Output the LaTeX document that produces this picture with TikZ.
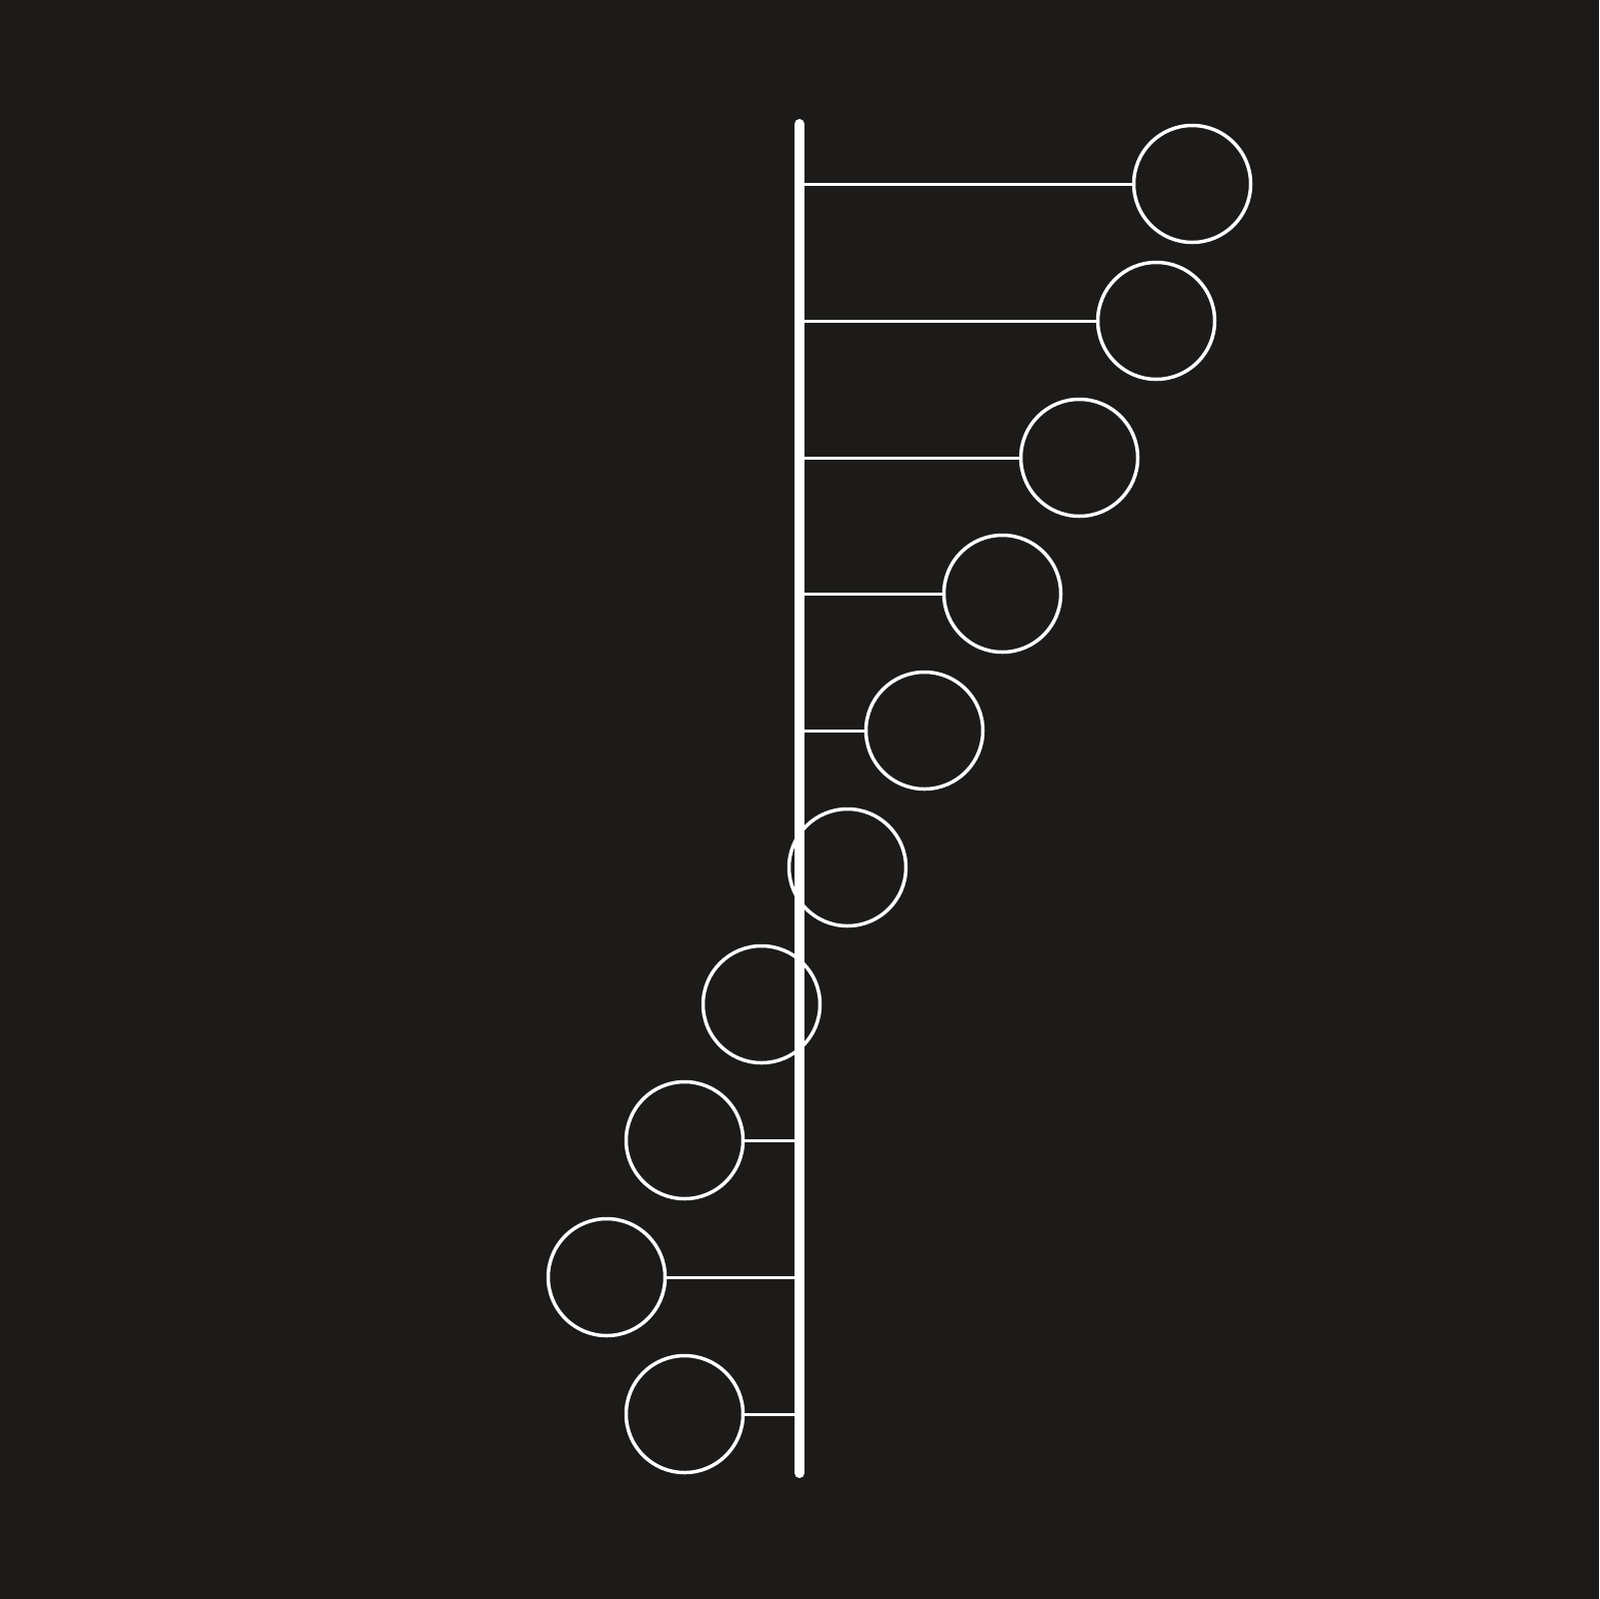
\documentclass[tikz,border=0pt]{standalone}
\usepackage{xcolor}
\definecolor{bgdark}{RGB}{28,27,25}
\begin{document}
\begin{tikzpicture}[x=0.1mm,y=-0.1mm]
\tikzstyle{ring}=[circle, draw=white, line width=0.35mm, minimum size=11.7mm, inner sep=0pt]
\tikzstyle{spoke}=[draw=white, line width=0.3mm]
\tikzstyle{spine}=[draw=white, line width=1mm, line cap=round]
\fill[bgdark] (0,0) rectangle (1600,1600);
\useasboundingbox (0,0) rectangle (1600,1600);
% rings
\node[ring] (c1) at (1193,184) {};
\node[ring] (c2) at (1157,321) {};
\node[ring] (c3) at (1080,458) {};
\node[ring] (c4) at (1003,594) {};
\node[ring] (c5) at (925,731) {};
\node[ring] (c6) at (848,868) {};
\node[ring] (c7) at (762,1005) {};
\node[ring] (c8) at (685,1141) {};
\node[ring] (c9) at (607,1278) {};
\node[ring] (c10) at (685,1415) {};
% spine
\coordinate (top) at (800,124);
\coordinate (bottom) at (800,1474);
\coordinate (s1) at (800,184);
\coordinate (s2) at (800,321);
\coordinate (s3) at (800,458);
\coordinate (s4) at (800,594);
\coordinate (s5) at (800,731);
\coordinate (s8) at (800,1141);
\coordinate (s9) at (800,1278);
\coordinate (s10) at (800,1415);
\draw[spoke] (s1) -- (c1.west);
\draw[spoke] (s2) -- (c2.west);
\draw[spoke] (s3) -- (c3.west);
\draw[spoke] (s4) -- (c4.west);
\draw[spoke] (s5) -- (c5.west);
\draw[spoke] (s8) -- (c8.east);
\draw[spoke] (s9) -- (c9.east);
\draw[spoke] (s10) -- (c10.east);
\draw[spine] (top) -- (bottom);
\end{tikzpicture}
\end{document}
